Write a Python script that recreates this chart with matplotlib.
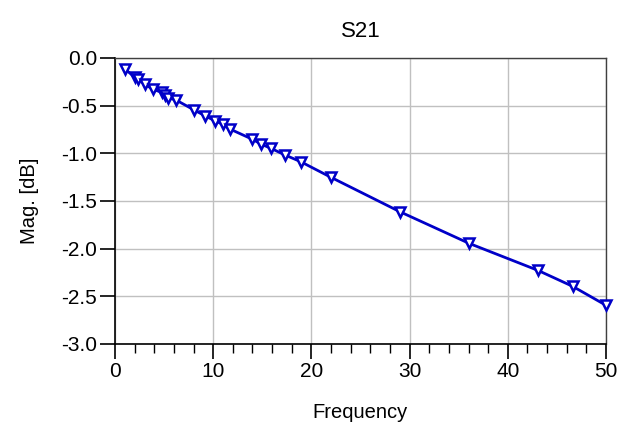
import matplotlib.pyplot as plt
import numpy as np

plt.rcParams['font.family'] = ['Liberation Sans', 'DejaVu Sans']

# S21 magnitude vs frequency
freq = [1.0, 2.0, 2.3, 3.05, 3.9, 4.75, 5.1, 5.4, 6.2, 8.05, 9.2, 10.2, 11.0, 11.7,
        14.0, 14.9, 15.9, 17.3, 18.9, 22.0, 29.0, 36.05, 43.05, 46.6, 50.0]
mag_db = [-0.115, -0.20, -0.22, -0.277, -0.33, -0.36, -0.39, -0.417, -0.44, -0.545,
          -0.608, -0.66, -0.696, -0.745, -0.853, -0.905, -0.948, -1.017, -1.087,
          -1.252, -1.612, -1.944, -2.227, -2.395, -2.594]

xticks = [0, 10, 20, 30, 40, 50]
yticks = [0.0, -0.5, -1.0, -1.5, -2.0, -2.5, -3.0]

fig = plt.figure(figsize=(6.19, 4.32), dpi=100)
ax = fig.add_axes([115 / 619, 1 - 344 / 432, 491 / 619, 286 / 432])

ax.plot(freq, mag_db, color='#0000C8', lw=2.0, marker='v', ms=7.5,
        mfc='white', mec='#0000C8', mew=1.8, clip_on=False, zorder=3)

ax.set_xlim(0, 50)
ax.set_ylim(-3.0, 0.0)
ax.set_xticks(xticks)
ax.set_xticks(np.arange(0, 51, 2), minor=True)
ax.set_yticks(yticks)
ax.set_yticklabels(['%.1f' % v for v in yticks])
ax.grid(True, which='major', color='#c0c0c0', lw=1.0)
ax.set_axisbelow(True)

ax.tick_params(axis='both', which='major', direction='out', length=11, width=1.2,
               labelsize=15, pad=2, color='black')
ax.tick_params(axis='x', which='minor', direction='out', length=6.5, width=1.0)
ax.tick_params(axis='y', which='minor', left=False)

ax.spines['left'].set_linewidth(1.2)
ax.spines['bottom'].set_linewidth(1.2)
for s in ['top', 'right']:
    ax.spines[s].set_color('#404040')
    ax.spines[s].set_linewidth(1.0)

ax.set_title('S21', fontsize=16, pad=15)
ax.set_xlabel('Frequency', fontsize=14.5, labelpad=16)
ax.set_ylabel('Mag. [dB]', fontsize=14.5, labelpad=16)

fig.savefig('out.png', dpi=100)
